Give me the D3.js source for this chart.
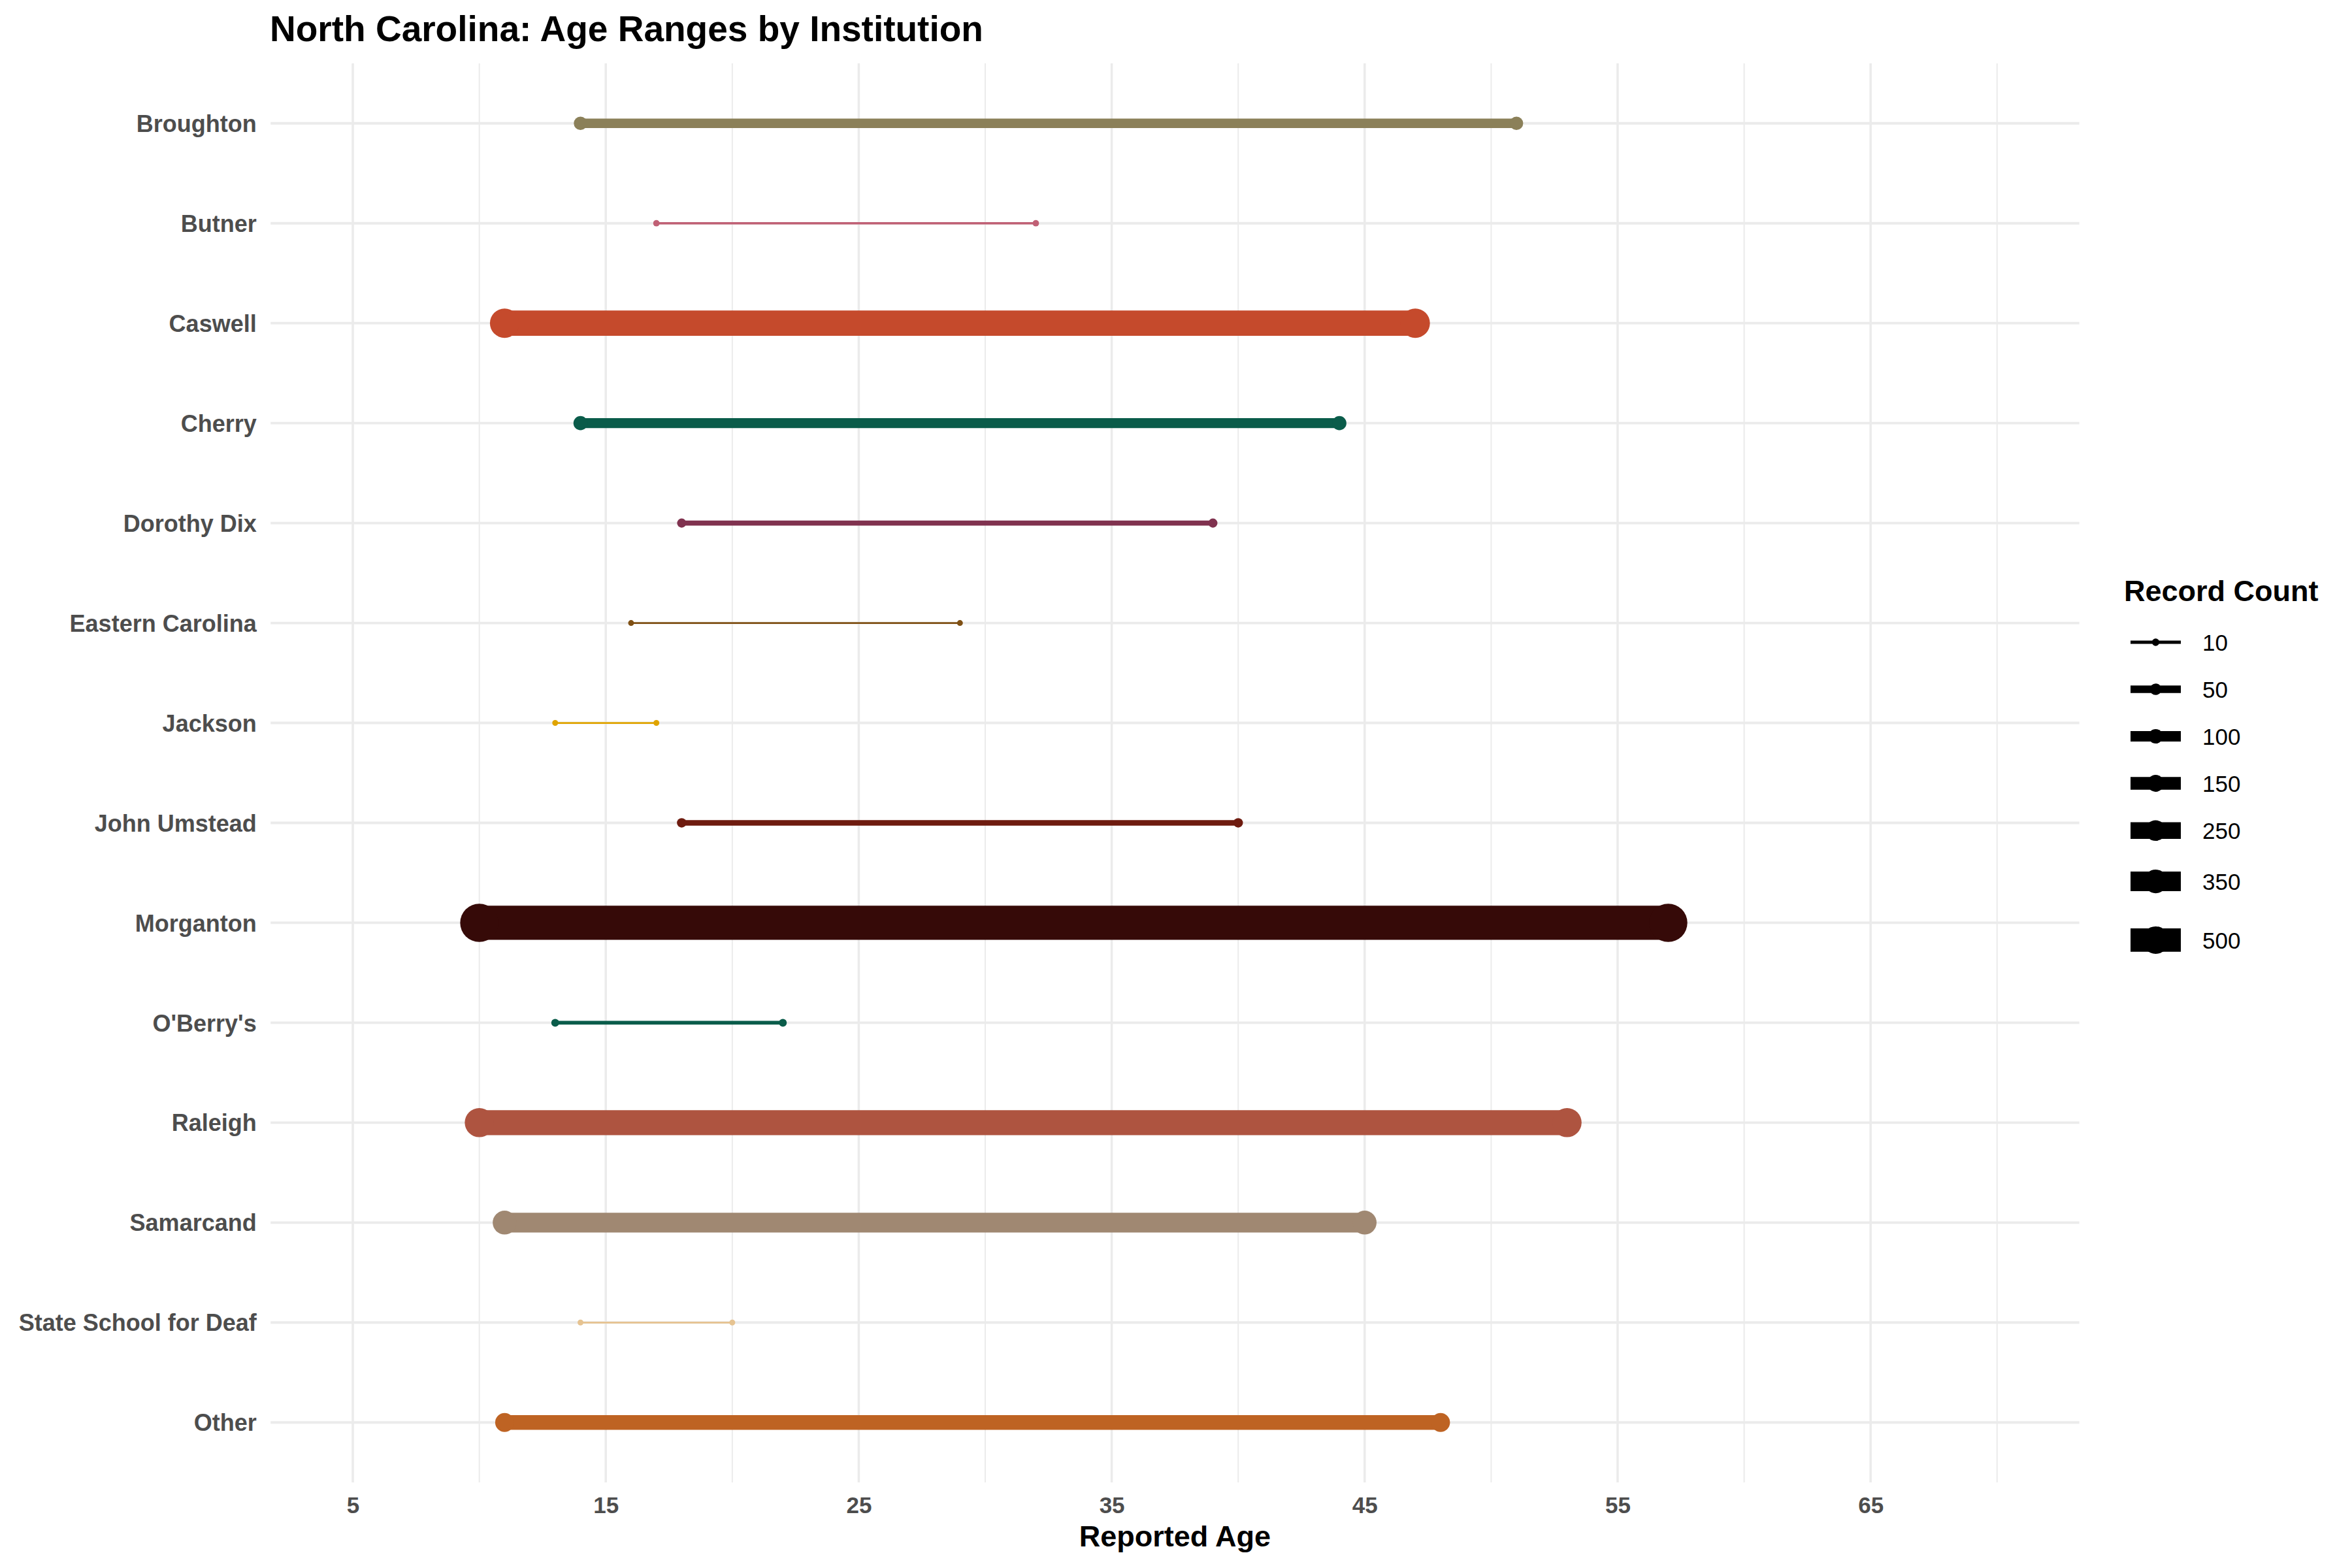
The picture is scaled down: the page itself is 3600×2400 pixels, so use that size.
<!DOCTYPE html>
<html>
<head>
<meta charset="utf-8">
<script src="https://cdn.jsdelivr.net/npm/d3@7/dist/d3.min.js"></script>
<style>
  html, body { margin: 0; padding: 0; background: #ffffff; }
  svg { display: block; }
  text { font-family: "Liberation Sans", Arial, Helvetica, sans-serif; }
</style>
</head>
<body>
<svg id="chart" width="3600" height="2400"></svg>
<script>
// ---------------- DATA ----------------
const institutions = ["Broughton", "Butner", "Caswell", "Cherry", "Dorothy Dix",
  "Eastern Carolina", "Jackson", "John Umstead", "Morganton", "O'Berry's",
  "Raleigh", "Samarcand", "State School for Deaf", "Other"];
const minAge =   [14, 17, 11, 14, 18, 16, 13, 18, 10, 13, 10, 11, 14, 11];
const maxAge =   [51, 32, 47, 44, 39, 29, 17, 40, 57, 22, 53, 45, 20, 48];
const recordCount = [80, 5, 585, 92, 24, 3, 3, 27, 1070, 13, 572, 356, 3, 200];
const colors = ["#8B8059", "#C06075", "#C54A2C", "#0A5C4A", "#80324F",
  "#7F5014", "#E0A400", "#6E1B0F", "#360A08", "#0A5C4A",
  "#AE5440", "#A08872", "#E6C391", "#BE6323"];
const xTickValues = [5, 15, 25, 35, 45, 55, 65];
const xMinorValues = [10, 20, 30, 40, 50, 60, 70];
const legendBreaks = [10, 50, 100, 150, 250, 350, 500];

const data = institutions.map((name, i) => ({
  name, min: minAge[i], max: maxAge[i], n: recordCount[i], color: colors[i]
}));

// ---------------- LAYOUT ----------------
const svg = d3.select("#chart");
const panel = { left: 414.2, right: 3182.6, top: 97, bottom: 2269 };

const x = d3.scaleLinear().domain([1.75, 73.25]).range([panel.left, panel.right]);
const y = d3.scalePoint().domain(institutions).range([panel.top, panel.bottom]).padding(0.6);
const lineW = d3.scaleSqrt().domain([0, 500]).range([0, 35.8]);
const pointD = n => lineW(n) + 6.2;

svg.append("rect").attr("width", 3600).attr("height", 2400).attr("fill", "#ffffff");

// grid
const grid = svg.append("g");
grid.selectAll("line.minor").data(xMinorValues).join("line")
  .attr("x1", d => x(d)).attr("x2", d => x(d))
  .attr("y1", panel.top).attr("y2", panel.bottom)
  .attr("stroke", "#EBEBEB").attr("stroke-width", 2);
grid.selectAll("line.majorx").data(xTickValues).join("line")
  .attr("x1", d => x(d)).attr("x2", d => x(d))
  .attr("y1", panel.top).attr("y2", panel.bottom)
  .attr("stroke", "#EBEBEB").attr("stroke-width", 3.5);
grid.selectAll("line.majory").data(institutions).join("line")
  .attr("x1", panel.left).attr("x2", panel.right)
  .attr("y1", d => y(d)).attr("y2", d => y(d))
  .attr("stroke", "#EBEBEB").attr("stroke-width", 3.8);

// segments
const marks = svg.append("g");
marks.selectAll("line.seg").data(data).join("line")
  .attr("x1", d => x(d.min)).attr("x2", d => x(d.max))
  .attr("y1", d => y(d.name)).attr("y2", d => y(d.name))
  .attr("stroke", d => d.color)
  .attr("stroke-width", d => lineW(d.n))
  .attr("stroke-linecap", "butt");
const ends = data.flatMap(d => [{ d, v: d.min }, { d, v: d.max }]);
marks.selectAll("circle.pt").data(ends).join("circle")
  .attr("cx", e => x(e.v)).attr("cy", e => y(e.d.name))
  .attr("r", e => pointD(e.d.n) / 2)
  .attr("fill", e => e.d.color);

// y axis labels
const yAxis = d3.axisLeft(y).tickSize(0).tickPadding(0);
const yg = svg.append("g").attr("transform", `translate(${panel.left - 21.5},0)`).call(yAxis);
yg.select(".domain").remove();
yg.selectAll("text")
  .attr("font-family", '"Liberation Sans", Arial, sans-serif')
  .attr("font-size", 36).attr("font-weight", "bold").attr("fill", "#4D4D4D")
  .attr("dy", "0.35em");

// x axis labels
const xAxis = d3.axisBottom(x).tickValues(xTickValues).tickSize(0).tickPadding(0);
const xg = svg.append("g").attr("transform", `translate(0,2315.7)`).call(xAxis);
xg.select(".domain").remove();
xg.selectAll("text")
  .attr("font-family", '"Liberation Sans", Arial, sans-serif')
  .attr("font-size", 35).attr("font-weight", "bold").attr("fill", "#4D4D4D")
  .attr("y", 0).attr("dy", 0);

// axis title
svg.append("text")
  .attr("x", (panel.left + panel.right) / 2).attr("y", 2367.3)
  .attr("text-anchor", "middle").attr("font-size", 45).attr("font-weight", "bold")
  .attr("fill", "#000000").text("Reported Age");

// chart title
svg.append("text")
  .attr("x", 413).attr("y", 63.3)
  .attr("font-size", 55).attr("font-weight", "bold").attr("fill", "#000000")
  .text("North Carolina: Age Ranges by Institution");

// legend
const lg = svg.append("g");
lg.append("text").attr("x", 3251).attr("y", 920)
  .attr("font-size", 45).attr("font-weight", "bold").attr("fill", "#000000")
  .text("Record Count");
const keyLeft = 3261, keyW = 77;
let cursor = 947;
legendBreaks.forEach(b => {
  const d = pointD(b);
  const h = Math.max(72, 2.3 * d);
  const cy = cursor + h / 2;
  lg.append("line")
    .attr("x1", keyLeft).attr("x2", keyLeft + keyW)
    .attr("y1", cy).attr("y2", cy)
    .attr("stroke", "#000000").attr("stroke-width", lineW(b));
  lg.append("circle").attr("cx", keyLeft + keyW / 2).attr("cy", cy)
    .attr("r", d / 2).attr("fill", "#000000");
  lg.append("text").attr("x", 3371).attr("y", cy).attr("dy", "0.36em")
    .attr("font-size", 35).attr("fill", "#000000").text(b);
  cursor += h;
});
</script>
</body>
</html>
